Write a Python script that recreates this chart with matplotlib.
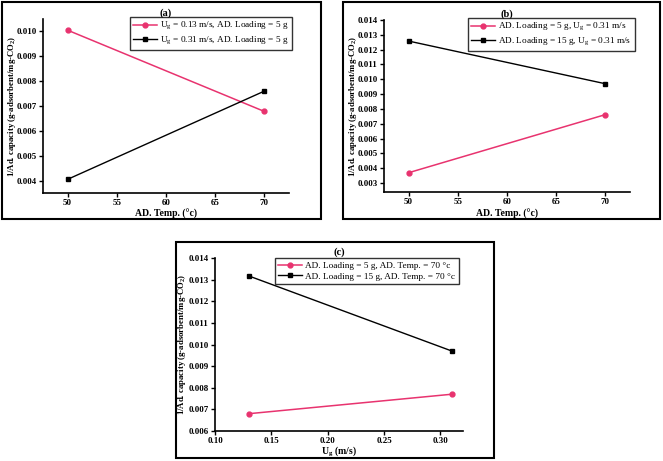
import matplotlib
matplotlib.use("Agg")
import matplotlib.pyplot as plt
from matplotlib.patches import Rectangle

# data
temps = [50, 70]
a_pink = [0.01005, 0.00678]   # Ug = 0.13, 5 g
a_black = [0.00405, 0.00760]  # Ug = 0.31, 5 g
b_pink = [0.00370, 0.00762]   # 5 g, Ug = 0.31
b_black = [0.01258, 0.00970]  # 15 g, Ug = 0.31
ug = [0.13, 0.31]
c_pink = [0.00680, 0.00770]   # 5 g, 70 C
c_black = [0.01317, 0.00970]  # 15 g, 70 C

a_labels = ["U$_\\mathregular{g}$ = 0.13 m/s, AD. Loading = 5 g",
            "U$_\\mathregular{g}$ = 0.31 m/s, AD. Loading = 5 g"]
b_labels = ["AD. Loading = 5 g, U$_\\mathregular{g}$ = 0.31 m/s",
            "AD. Loading = 15 g, U$_\\mathregular{g}$ = 0.31 m/s"]
c_labels = ["AD. Loading = 5 g, AD. Temp. = 70 °c",
            "AD. Loading = 15 g, AD. Temp. = 70 °c"]

PINK = "#e8336f"
W, H = 663, 461

plt.rcParams['font.family'] = ['Liberation Serif', 'DejaVu Serif']
plt.rcParams['mathtext.fontset'] = 'custom'
plt.rcParams['mathtext.rm'] = 'Liberation Serif'
plt.rcParams['mathtext.bf'] = 'Liberation Serif:bold'

fig = plt.figure(figsize=(W / 100, H / 100), dpi=100)


def px_axes(l, r, t, b):
    return fig.add_axes([l / W, 1 - b / H, (r - l) / W, (b - t) / H])


def box(l, r, t, b):
    fig.add_artist(Rectangle((l / W, 1 - b / H), (r - l) / W, (b - t) / H,
                             transform=fig.transFigure, fill=False,
                             edgecolor="black", linewidth=1.5))


def panel(ax, x, pink, black, labels, tag, xlabel, leg_xy, xlim, ylim, yticks, xticks, fmt,
          ylab_dx, xlab_dy):
    ax.plot(x, pink, '-o', color=PINK, ms=3.5, lw=1.1, label=labels[0])
    ax.plot(x, black, '-s', color="black", ms=3.2, lw=1.0, label=labels[1])
    ax.set_xlim(*xlim)
    ax.set_ylim(*ylim)
    ax.set_xticks(xticks)
    ax.set_yticks(yticks)
    ax.set_xticklabels([fmt.format(v) for v in xticks])
    ax.set_yticklabels(["%.3f" % v for v in yticks])
    for s in ("top", "right"):
        ax.spines[s].set_visible(False)
    for s in ("left", "bottom"):
        ax.spines[s].set_linewidth(1.2)
    ax.tick_params(direction="out", length=3, width=1, labelsize=6.5, pad=1.5)
    ax.tick_params(axis="x", pad=1)
    for lab in ax.get_xticklabels() + ax.get_yticklabels():
        lab.set_fontweight("bold")
    bb = ax.get_position()
    w_px, h_px = bb.width * W, bb.height * H
    ax.set_xlabel(xlabel, fontsize=7, fontweight="bold")
    ax.xaxis.set_label_coords(0.5, -xlab_dy / h_px)
    ax.set_ylabel("1/Ad. capacity (g-adsorbent/mg-CO$_\\mathbf{2}$)",
                  fontsize=6.3, fontweight="bold", va="center")
    ax.yaxis.set_label_coords(-ylab_dx / w_px, 0.5)
    ax.set_title(tag, fontsize=7.5, fontweight="bold", pad=2)
    leg = ax.legend(loc="upper left", bbox_to_anchor=(leg_xy[0] / W, 1 - leg_xy[1] / H),
                    bbox_transform=fig.transFigure, fontsize=6.7, frameon=True,
                    fancybox=False, edgecolor="black", borderaxespad=0,
                    handlelength=2.6, borderpad=0.35, labelspacing=0.25,
                    handletextpad=0.3)
    leg.get_frame().set_linewidth(1.0)


ax1 = px_axes(43, 289, 19, 193)
panel(ax1, temps, a_pink, a_black, a_labels, "(a)", "AD. Temp. (°c)", (130, 17),
      (47.5, 72.5), (0.0035, 0.0105), [0.004, 0.005, 0.006, 0.007, 0.008, 0.009, 0.010],
      [50, 55, 60, 65, 70], "{:d}", 31, 16)

ax2 = px_axes(384, 630, 20, 192)
panel(ax2, temps, b_pink, b_black, b_labels, "(b)", "AD. Temp. (°c)", (468, 18),
      (47.5, 72.5), (0.0024, 0.014),
      [0.003, 0.004, 0.005, 0.006, 0.007, 0.008, 0.009, 0.010, 0.011, 0.012, 0.013, 0.014],
      [50, 55, 60, 65, 70], "{:d}", 31, 17)

ax3 = px_axes(215, 463, 258, 431)
panel(ax3, ug, c_pink, c_black, c_labels, "(c)", "U$_\\mathbf{g}$ (m/s)", (275, 258),
      (0.10, 0.32), (0.006, 0.014),
      [0.006, 0.007, 0.008, 0.009, 0.010, 0.011, 0.012, 0.013, 0.014],
      [0.10, 0.15, 0.20, 0.25, 0.30], "{:.2f}", 33, 14)

box(2, 321, 2, 219)
box(343, 660, 2, 219)
box(176, 494, 242, 458)

fig.savefig("out.png", dpi=100)
